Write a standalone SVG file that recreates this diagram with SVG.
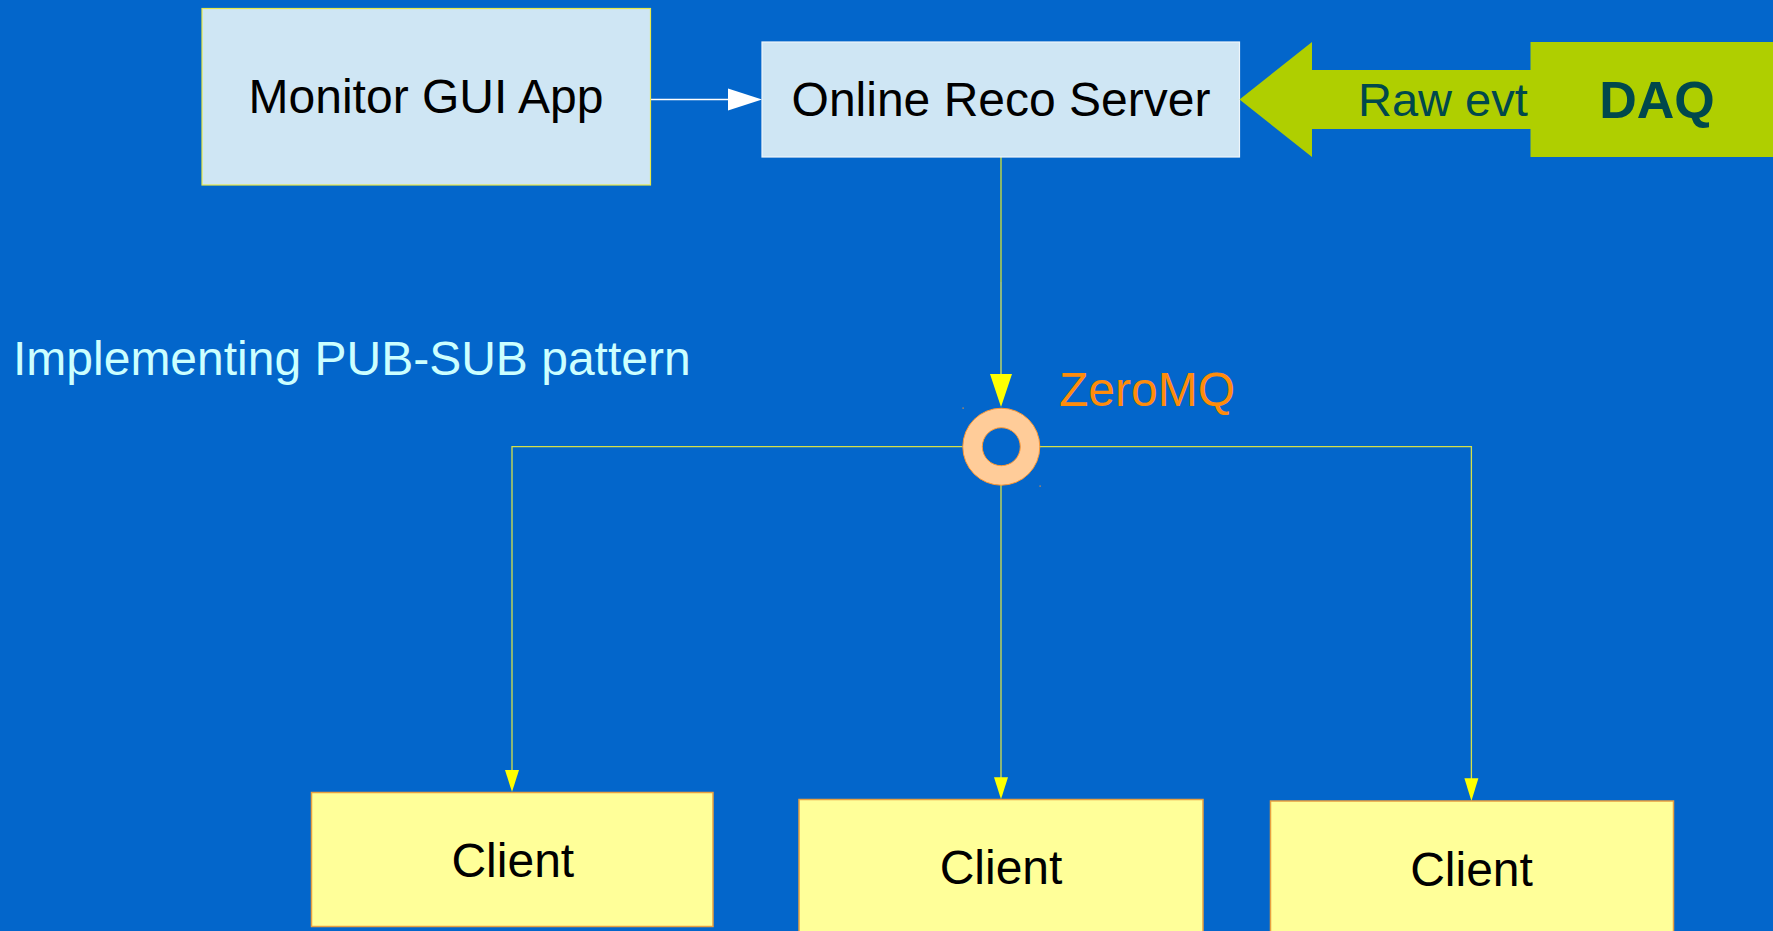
<svg xmlns="http://www.w3.org/2000/svg" width="1773" height="931" viewBox="0 0 1773 931">
  <style>
    .lbl { font-family: "Liberation Sans", Arial, sans-serif; font-size: 48px; text-anchor: middle; fill: #000000; }
    .srv { fill: #cfe6f4; }
    .client { fill: #ffff99; stroke: #e8a040; stroke-width: 1.5; }
    .wire { fill: none; stroke: #d4e04a; stroke-width: 1.3; }
    .head { fill: #ffff00; }
  </style>

  <!-- background -->
  <rect x="0" y="0" width="1773" height="931" fill="#0366cb"/>

  <!-- caption -->
  <text x="13" y="375" font-family="'Liberation Sans', Arial, sans-serif" font-size="48" fill="#ccffff">Implementing PUB-SUB pattern</text>

  <!-- connectors -->
  <g id="connectors">
    <!-- GUI -> server -->
    <line x1="650" y1="99.5" x2="730" y2="99.5" stroke="#ffffff" stroke-width="1.5"/>
    <polygon points="728,88.5 762,99.5 728,110.5" fill="#ffffff"/>

    <!-- server -> ZeroMQ -->
    <line x1="1001" y1="157" x2="1001" y2="282" stroke="#98c060" stroke-width="1.8"/>
    <line x1="1001" y1="282" x2="1001" y2="376" stroke="#e8ee50" stroke-width="1.2"/>
    <polygon class="head" points="990,374 1012,374 1001,407"/>

    <!-- fan-out bus -->
    <polyline class="wire" points="962.5,446.7 512,446.7 512,772"/>
    <polyline class="wire" points="1039.5,446.7 1471.4,446.7 1471.4,780"/>
    <line class="wire" x1="1001" y1="485" x2="1001" y2="779"/>

    <polygon class="head" points="505,770 519,770 512,792"/>
    <polygon class="head" points="994,777.3 1008,777.3 1001,799.3"/>
    <polygon class="head" points="1464.4,778.3 1478.4,778.3 1471.4,801"/>
  </g>

  <!-- Monitor GUI App -->
  <g id="monitor-gui">
    <rect class="srv" x="202" y="8.5" width="448.5" height="176.5" stroke="#e6e84a" stroke-width="1.2"/>
    <text class="lbl" x="426" y="113">Monitor GUI App</text>
  </g>

  <!-- Online Reco Server -->
  <g id="online-reco-server">
    <rect class="srv" x="762" y="42" width="477.5" height="115" stroke="#eef6fb" stroke-width="1.2"/>
    <text class="lbl" x="1001" y="116">Online Reco Server</text>
  </g>

  <!-- raw event feed -->
  <g id="raw-evt">
    <polygon points="1239.5,99.5 1312,42 1312,70 1531,70 1531,129 1312,129 1312,157" fill="#afcf00"/>
    <text x="1358" y="116" font-family="'Liberation Sans', Arial, sans-serif" font-size="47" fill="#00484c">Raw evt</text>
  </g>

  <!-- DAQ -->
  <g id="daq">
    <rect x="1530.5" y="42" width="243" height="115" fill="#afcf00"/>
    <text x="1657" y="118" font-family="'Liberation Sans', Arial, sans-serif" font-size="52" font-weight="bold" text-anchor="middle" fill="#00484c">DAQ</text>
  </g>

  <!-- ZeroMQ socket -->
  <g id="zeromq">
    <path d="M962.8,446.7 a38.5,38.5 0 1,0 77,0 a38.5,38.5 0 1,0 -77,0 Z M982.3,446.7 a19,19 0 1,0 38,0 a19,19 0 1,0 -38,0 Z" fill="#ffcc99" fill-rule="evenodd" stroke="#ff9933" stroke-width="1"/>
    <rect x="962.5" y="407.5" width="1.2" height="1.2" fill="#ff9933"/>
    <rect x="1039.5" y="485.5" width="1.2" height="1.2" fill="#ff9933"/>
    <text x="1059" y="406" font-family="'Liberation Sans', Arial, sans-serif" font-size="48" fill="#ff8c0a">ZeroMQ</text>
  </g>

  <!-- clients -->
  <g id="client-1">
    <rect class="client" x="311.5" y="792.5" width="401.5" height="134"/>
    <text class="lbl" x="512.8" y="877">Client</text>
  </g>
  <g id="client-2">
    <rect class="client" x="799" y="799.5" width="404" height="140"/>
    <text class="lbl" x="1001" y="884">Client</text>
  </g>
  <g id="client-3">
    <rect class="client" x="1270.5" y="801" width="403" height="140"/>
    <text class="lbl" x="1471.5" y="885.5">Client</text>
  </g>
</svg>
